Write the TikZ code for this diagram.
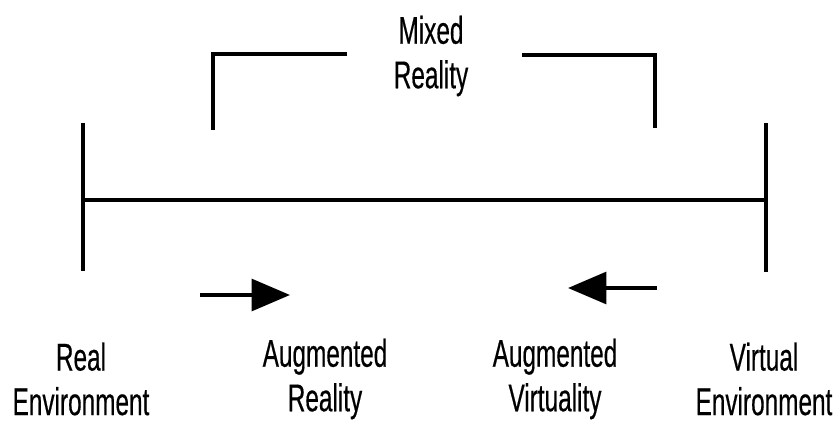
\documentclass[tikz,border=0pt]{standalone}
\usepackage{fontspec}
\newfontfamily\narrowsans[FakeStretch=0.63,FakeBold=0.4]{Liberation Sans}
\usetikzlibrary{arrows.meta}
\begin{document}
\begin{tikzpicture}[x=0.03cm,y=-0.03cm,line join=miter,line cap=butt,line width=3.4pt,
		>={Triangle[length=1.15cm,width=0.95cm]}]
	\tikzset{label style/.style={font=\narrowsans\fontsize{33}{38}\selectfont,align=center,inner sep=0pt}}
	\useasboundingbox (0,0) rectangle (835,422);
	\def \ybar{200}
	\def \xleft{83}
	\def \xright{766}
	% continuum
	\coordinate (barL) at (\xleft,\ybar);
	\coordinate (barR) at (\xright,\ybar);
	\coordinate (tickLtop) at (\xleft,123);
	\coordinate (tickLbot) at (\xleft,271);
	\coordinate (tickRtop) at (\xright,123);
	\coordinate (tickRbot) at (\xright,272);
	\draw (barL) -- (barR);
	\draw (tickLtop) -- (tickLbot);
	\draw (tickRtop) -- (tickRbot);
	% mixed reality bracket
	\node[label style] (mixed) at (431,56) {Mixed\\Reality};
	\coordinate (brLfoot) at (213,130);
	\coordinate (brLend) at (347,54);
	\coordinate (brRfoot) at (655,128);
	\coordinate (brRend) at (522,55);
	\draw (brLend) -| (brLfoot);
	\draw (brRend) -| (brRfoot);
	% labels
	\node[label style] (real) at (81,379) {Real\\Environment};
	\node[label style] (augreal) at (325,379) {Augmented\\Reality};
	\node[label style] (augvirt) at (555,379) {Augmented\\Virtuality};
	\node[label style] (virtual) at (764,379) {Virtual\\Environment};
	% arrows
	\coordinate (arRstart) at (200,295);
	\coordinate (arRend) at (290,295);
	\coordinate (arLstart) at (657,288);
	\coordinate (arLend) at (568,288);
	\draw[->] (arRstart) -- (arRend);
	\draw[->] (arLstart) -- (arLend);
\end{tikzpicture}
\end{document}
